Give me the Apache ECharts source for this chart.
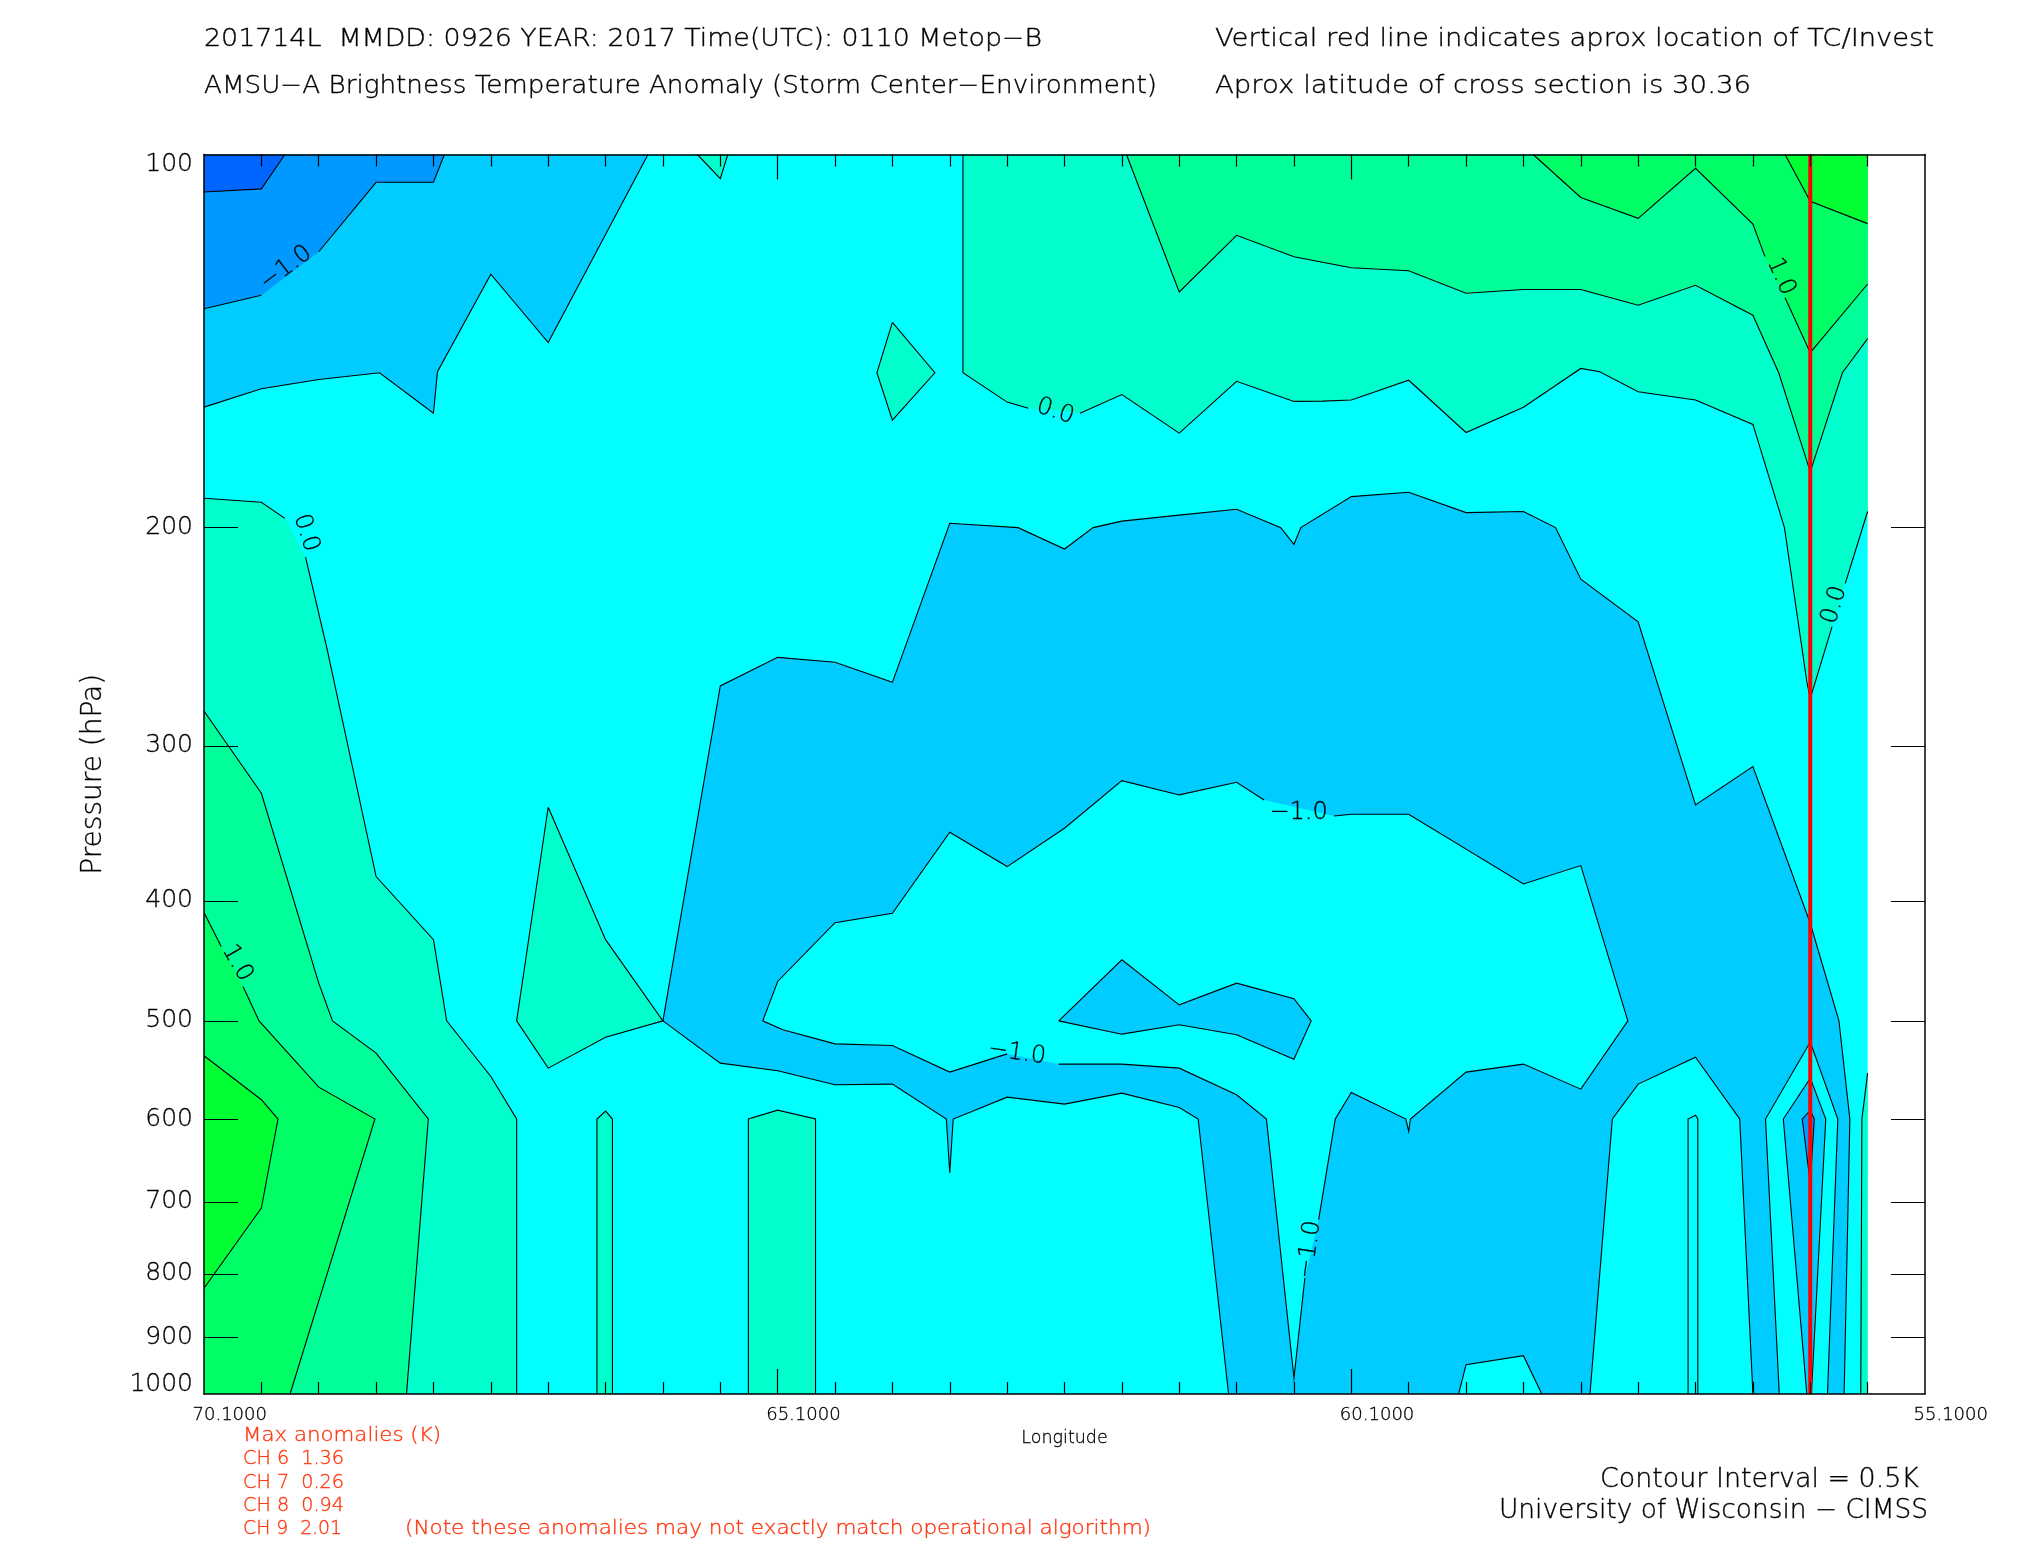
<!DOCTYPE html>
<html><head><meta charset="utf-8">
<style>html,body{margin:0;padding:0;background:#fff}#c{width:2025px;height:1550px}</style>
<script src="https://cdn.jsdelivr.net/npm/echarts@6/dist/echarts.min.js"></script>
</head><body><div id="c"></div>
<script>
// tick values
const lonLabelTicks=[70.1,65.1,60.1,55.1];
const lonMajorTicks=[65.1,60.1];
const lonMinorTicks=[69.6,69.1,68.6,68.1,67.6,67.1,66.6,66.1,65.6,64.6,64.1,63.6,63.1,62.6,62.1,61.6,61.1,60.6,59.6,59.1,58.6,58.1,57.6,57.1,56.6,56.1,55.6];
const pressureLabels=[100,200,300,400,500,600,700,800,900,1000];
const pressureTicks=[200,300,400,500,600,700,800,900];
const stormLon=56.1;
// contours as [longitude, pressure]; null = gap in the drawn line
const field=[[70.1,100],[55.6,100],[55.6,1000],[70.1,1000]];
const lineA=[[69.395,100],[69.6,106.6],[70.1,107.2]];
const lineB=[[68.005,100],[68.1,105.3],[68.6,105.3],[69.1,119.8],null,[69.6,129.9],[70.1,133.2]];
const lineC=[[66.23,100],[67.1,141.8],[67.6,124.9],[68.065,149.7],[68.1,161.7],[68.57,150],[69.1,151.9],[69.6,154.5],[70.1,159.9]];
const spike=[[65.8,100],[65.6,104.6],[65.535,100]];
const topZero=[[63.485,100],[63.485,150],[63.1,158.4],[62.915,160.2],null,[62.465,161.7],[62.1,156.2],[61.6,167.8],[61.1,152.4],[60.6,158.2],[60.35,158.1],[60.1,157.8],[59.6,152.1],[59.1,167.6],[58.6,159.9],[58.1,148.8],[57.935,149.7],[57.6,155.4],[57.1,157.8],[56.6,165.1],[56.325,200],[56.13,266.3],[56.1,274.7],[55.91,240.4],null,[55.795,221.8],[55.6,194.1]];
const diamond=[[64.1,136.6],[63.73,150],[64.1,163.8],[64.235,150],[64.1,136.6]];
const topHalf=[[62.06,100],[61.6,129.1],[61.1,116.2],[60.6,120.9],[60.1,123.4],[59.6,124.1],[59.1,129.4],[58.6,128.5],[58.1,128.5],[57.6,132.3],[57.1,127.5],[56.6,134.8],[56.375,150],[56.1,180.3],[55.82,150],[55.6,140.8]];
const topOne=[[58.515,100],[58.1,108.3],[57.6,112.6],[57.1,102.6],[56.6,113.8],[56.495,120.9],null,[56.32,130.5],[56.1,144.5],[55.6,127.2]];
const topOneHalf=[[56.32,100],[56.1,109.1],[55.6,113.7]];
const leftZero=[[70.1,189.4],[69.6,190.8],[69.395,196.6],null,[69.215,211.3],[69.03,250],[68.6,382.4],[68.1,430],[67.985,500],[67.6,554.4],[67.375,600],[67.375,1000]];
const leftHalf=[[70.1,281.2],[69.6,327.6],[69.1,466.2],[68.98,500],[68.6,530.9],[68.145,600],[68.335,1000]];
const leftOne=[[70.1,408.9],[69.95,435.4],null,[69.76,469.1],[69.62,500],[69.1,565.5],[68.61,600],[69.35,1000]];
const leftOneHalf=[[70.1,533.5],[69.6,578.9],[69.455,600],[69.6,707.9],[70.1,821.4]];
const triangle=[[67.1,336.2],[66.6,430],[66.1,500],[66.6,515.4],[67.1,545.9],[67.375,500],[67.1,336.2]];
const sliverA=[[66.675,1000],[66.675,600],[66.6,591.3],[66.54,600],[66.54,1000]];
const sliverB=[[65.355,1000],[65.355,600],[65.1,590.2],[64.77,600],[64.77,1000]];
const sliverC=[[57.165,1000],[57.165,600],[57.1,595.7],[57.08,600],[57.08,1000]];
const blueOuter=[[66.1,500],[65.6,268.4],[65.1,254.5],[64.6,256.8],[64.1,266.6],[63.6,198.4],[63.005,200],[62.6,208.1],[62.35,200],[62.1,197.6],[61.6,195.4],[61.1,193.3],[60.715,200],[60.6,206.3],[60.54,200],[60.1,188.8],[59.6,187.3],[59.1,194.5],[58.6,194.1],[58.32,200],[58.1,220.1],[57.6,238.2],[57.1,334.8],[56.6,311.8],[56.1,417.1],[55.85,500],[55.755,600],[55.805,1000]];
const blueLower=[[66.1,500],[65.6,540.8],[65.1,548.6],[64.6,563],[64.1,562.3],[63.63,600],[63.6,663.3],[63.57,600],[63.1,576.1],[62.6,583.6],[62.1,571.8],[61.6,587.2],[61.435,600],[61.17,1000]];
const innerCyan=[[65.23,500],[65.1,464.7],[64.6,416.6],[64.1,409.4],[63.6,352.2],[63.1,375.4],[62.6,349.6],[62.1,320],[61.6,328.6],[61.1,321],[60.86,331.7],null,[60.25,341.7],[60.1,340.6],[59.6,340.6],[58.6,387.7],[58.1,374.7],[57.69,500],[58.1,567.6],[58.6,541.8],[59.1,549.9],[59.585,600],[59.6,614],[59.625,600],[60.1,571.1],[60.24,600],[60.385,723.4],null,[60.505,806.2],[60.6,970.7],[60.84,600],[61.1,573.6],[61.6,545.9],[62.1,541.8],[62.65,541.8],null,[63.1,531.6],[63.6,549.9],[64.1,523.4],[64.6,521.8],[65.055,508.4],[65.23,500]];
const innerBlob=[[62.65,500],[62.1,446.4],[61.6,485.3],[61.1,466.2],[60.6,479.9],[60.45,500],[60.6,537],[61.1,513.1],[61.6,503.6],[62.1,512.5],[62.65,500]];
const bottomPatch=[[59.165,1000],[59.1,946.9],[58.6,931.3],[58.44,1000]];
const cyanStrip=[[58.02,1000],[57.825,600],[57.6,562.3],[57.1,534.9],[56.715,600],[56.6,1000]];
const loopOuter=[[56.37,1000],[56.49,600],[56.1,520.1],[55.86,600],[55.95,1000]];
const loopInner=[[56.13,1000],[56.335,600],[56.1,556.1],[55.965,600],[56.09,1000]];
const coreSpot=[[56.17,600],[56.1,590.5],[56.065,600],[56.1,675.7],[56.17,600]];
const rightEdge=[[55.6,551],[55.65,600],[55.66,1000]];
// contour labels: [longitude, pressure, text, angle]
const contourLabels=[
 [69.385,123.5,'−1.0',37],[69.21,202,'0.0',-72],[69.81,449.2,'1.0',-60],[62.68,161.2,'0.0',-18],
 [60.56,339.6,'−1.0',0],[63.015,530.9,'−1.0',-8],[60.465,764.9,'−1.0',82],[55.89,230.9,'0.0',74],[56.355,125.5,'1.0',-66]];
const headerTexts=[
 ['201714L  MMDD: 0926 YEAR: 2017 Time(UTC): 0110 Metop−B',204,39,838],
 ['AMSU−A Brightness Temperature Anomaly (Storm Center−Environment)',204,86,953],
 ['Vertical red line indicates aprox location of TC/Invest',1215,39,719],
 ['Aprox latitude of cross section is 30.36',1215,86,536]];
const footerTexts=[
 ['Contour Interval = 0.5K',1600,1480,319],
 ['University of Wisconsin − CIMSS',1499,1511,429]];
const anomalyTexts=[
 ['Max anomalies (K)',243,1436,198],['CH 6  1.36',243,1459,101],['CH 7  0.26',243,1483,101],
 ['CH 8  0.94',243,1506,101],['CH 9  2.01',243,1529,99],
 ['(Note these anomalies may not exactly match operational algorithm)',405,1529,746]];

const INK='#000', RED='#ff0000', ORANGE='#ff3810';
const FONT='"DejaVu Sans Light","DejaVu Sans ExtraLight","Lato Light","DejaVu Sans"';
const cBlue3='#0066ff',cBlue2='#0099ff',cBlue1='#00ccff',cCyan='#00ffff',cG1='#00ffcc',cG2='#00ff99',cG3='#00ff66',cG4='#00ff33';
const TR=[[55.6,100]];
const fills=[
 [field,cCyan],[lineC.concat([[70.1,100]]),cBlue1],[lineB.concat([[70.1,100]]),cBlue2],[lineA.concat([[70.1,100]]),cBlue3],
 [topZero.concat(TR),cG1],[topHalf.concat(TR),cG2],[topOne.concat(TR),cG3],[topOneHalf.concat(TR),cG4],
 [spike,cG1],[diamond,cG1],
 [leftZero.concat([[70.1,1000]]),cG1],[leftHalf.concat([[70.1,1000]]),cG2],[leftOne.concat([[70.1,1000]]),cG3],[leftOneHalf,cG4],
 [triangle,cG1],[sliverA,cG1],[sliverB,cG1],[sliverC,cG1],
 [blueOuter.concat(blueLower.slice().reverse()),cBlue1],[innerCyan,cCyan],[innerBlob,cBlue1],
 [bottomPatch,cCyan],[cyanStrip,cCyan],[loopOuter,cCyan],[loopInner,cBlue1],[coreSpot,cBlue2],
 [rightEdge.concat([[55.6,1000]]),cG1]];
const strokes=[lineA,lineB,lineC,spike,topZero,diamond,topHalf,topOne,topOneHalf,leftZero,leftHalf,leftOne,leftOneHalf,triangle,sliverA,sliverB,sliverC,blueOuter,blueLower,innerCyan,innerBlob,bottomPatch,cyanStrip,loopOuter,loopInner,coreSpot,rightEdge];

const mctx=document.createElement('canvas').getContext('2d');
function fitText(t,size,color){
 const style={text:t[0],fill:color,stroke:color,lineWidth:0.35,fontFamily:FONT,fontSize:size,textAlign:'left',textVerticalAlign:'middle'};
 mctx.font=size+'px '+FONT;
 return {type:'text',x:t[1],y:t[2],scaleX:t[3]/mctx.measureText(t[0]).width,style,silent:true,z:20};
}
const mkX=(over)=>Object.assign({type:'value',min:55.1,max:70.1,inverse:true,gridIndex:0,z:10,
 axisLine:{show:false},splitLine:{show:false},axisLabel:{show:false}},over);
const chart=echarts.init(document.getElementById('c'),null,{renderer:'canvas',width:2025,height:1550});
chart.setOption({
 animation:false,backgroundColor:'#fff',
 grid:{left:204,right:100,top:154.5,bottom:156,containLabel:false},
 graphic:{elements:[...headerTexts.map(t=>fitText(t,25,INK)),...footerTexts.map(t=>fitText(t,26,INK)),...anomalyTexts.map(t=>fitText(t,19,ORANGE))]},
 xAxis:[
  mkX({position:'bottom',name:'Longitude',nameLocation:'middle',nameGap:34,nameTextStyle:{fontFamily:FONT,fontSize:17.5,color:INK,textBorderColor:INK,textBorderWidth:0.3},
   axisLine:{show:true,lineStyle:{color:'#000',width:1.5}},
   axisTick:{show:true,inside:true,length:25,customValues:lonMajorTicks,lineStyle:{color:'#000',width:1.2}},
   axisLabel:{show:true,margin:12,fontFamily:FONT,fontSize:18,color:INK,textBorderColor:INK,textBorderWidth:0.3,customValues:lonLabelTicks,
    formatter:v=>'\u00a0'.repeat(9)+Number(v).toFixed(4)}}),
  mkX({position:'top',axisLine:{show:true,lineStyle:{color:'#000',width:1.5}},
   axisTick:{show:true,inside:true,length:25,customValues:lonMajorTicks,lineStyle:{color:'#000',width:1.2}}}),
  mkX({position:'bottom',axisTick:{show:true,inside:true,length:12,customValues:lonMinorTicks,lineStyle:{color:'#000',width:1.2}}}),
  mkX({position:'top',axisTick:{show:true,inside:true,length:12,customValues:lonMinorTicks,lineStyle:{color:'#000',width:1.2}}})
 ],
 yAxis:[
  {type:'log',logBase:10,min:100,max:1000,inverse:true,position:'left',z:10,
   name:'Pressure (hPa)',nameLocation:'middle',nameGap:96,nameTextStyle:{fontFamily:FONT,fontSize:28,color:INK,textBorderColor:INK,textBorderWidth:0.3},
   splitLine:{show:false},axisLine:{show:true,lineStyle:{color:'#000',width:1.5}},
   axisTick:{show:true,inside:true,length:34,customValues:pressureTicks,lineStyle:{color:'#000',width:1.2}},
   axisLabel:{show:true,margin:11,fontFamily:FONT,fontSize:25,lineHeight:19,color:INK,textBorderColor:INK,textBorderWidth:0.3,customValues:pressureLabels,verticalAlignMinLabel:'top',verticalAlignMaxLabel:'bottom',formatter:v=>String(Math.round(v))}},
  {type:'log',logBase:10,min:100,max:1000,inverse:true,position:'right',z:10,
   splitLine:{show:false},axisLine:{show:true,lineStyle:{color:'#000',width:1.5}},
   axisTick:{show:true,inside:true,length:34,customValues:pressureTicks,lineStyle:{color:'#000',width:1.2}},axisLabel:{show:false}}
 ],
 series:[
  {type:'custom',name:'bands',xAxisIndex:0,yAxisIndex:0,z:2,clip:true,silent:true,data:fills.map((f,i)=>[i]),
   renderItem:(p,api)=>{const f=fills[api.value(0)];
    return {type:'polygon',shape:{points:f[0].filter(Boolean).map(q=>api.coord(q))},style:{fill:f[1],stroke:null}};}},
  {type:'custom',name:'contours',xAxisIndex:0,yAxisIndex:0,z:3,clip:true,silent:true,data:strokes.map((f,i)=>[i]),
   renderItem:(p,api)=>{const runs=[];let cur=[];
    strokes[api.value(0)].forEach(q=>{if(q===null){runs.push(cur);cur=[];}else cur.push(api.coord(q));});runs.push(cur);
    return {type:'group',children:runs.map(r=>({type:'polyline',shape:{points:r},style:{stroke:'#000',lineWidth:1.1,fill:null}}))};}},
  {type:'custom',name:'labels',xAxisIndex:0,yAxisIndex:0,z:4,silent:true,data:contourLabels.map((f,i)=>[i]),
   renderItem:(p,api)=>{const l=contourLabels[api.value(0)],c=api.coord([l[0],l[1]]);
    return {type:'text',x:c[0],y:c[1],rotation:l[3]*Math.PI/180,style:{text:l[2],fontFamily:FONT,fontSize:24,fill:INK,stroke:INK,lineWidth:0.3,textAlign:'center',textVerticalAlign:'middle'}};}},
  {type:'line',name:'storm',xAxisIndex:0,yAxisIndex:0,z:5,symbol:'none',silent:true,data:[[stormLon,100],[stormLon,1000]],lineStyle:{color:RED,width:4,cap:'butt'}}
 ]
});
</script></body></html>
